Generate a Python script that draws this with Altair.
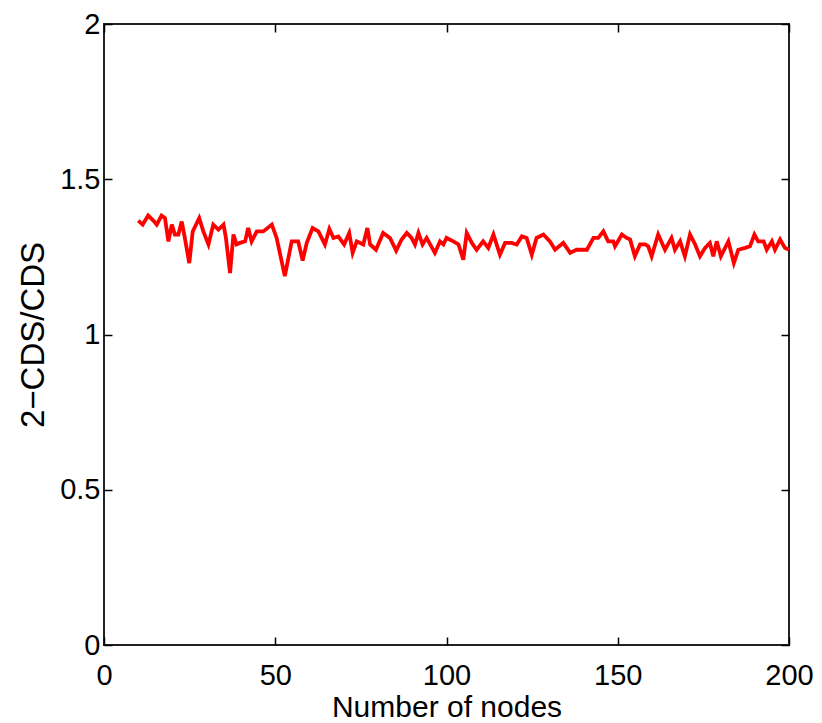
import altair as alt
import pandas as pd

nodes = [10, 11.3, 12.9, 14.4, 15.4, 16.8, 17.8, 18.8, 19.8, 20.7,
         21.7, 22.7, 23.6, 24.9, 25.9, 27.8, 29.0, 30.5, 31.9, 33.4,
         34.9, 35.6, 36.8, 37.8, 38.7, 39.7, 41.2, 42.1, 43.1, 44.6,
         46.5, 49.0,
         50.4, 52.8, 54.8, 56.7, 58.0, 59.2, 60.9, 62.6, 64.5, 65.8,
         67.0, 68.4, 70.1, 71.6, 72.6, 73.8, 75.7, 76.9, 77.7, 79.4,
         81.5, 83.5, 85.3, 86.9, 88.4, 89.8, 90.8, 91.8, 93.0, 94.2,
         96.6, 98.1, 99.1,
         100.0, 102.0, 103.5, 104.9, 105.9, 107.4, 108.8, 110.7, 112.2, 113.7,
         115.6, 117.1, 119.0, 120.5, 122.0, 123.4, 124.9, 126.3, 128.3, 130.2,
         131.7, 134.1, 136.1, 138.0, 141.0, 142.9, 144.3, 145.8, 147.2, 148.7,
         149.2, 151.2, 152.6, 153.6, 155.0, 156.5, 158.0, 158.9, 159.9, 161.8,
         163.8, 165.7, 166.7, 168.2, 169.6, 171.1, 172.6, 174.0, 175.5, 176.9,
         177.9, 178.9, 180.1, 182.3, 183.9, 185.2, 187.2, 188.6, 189.9, 191.0,
         192.6, 193.5, 195.0, 195.9, 197.4, 198.8, 200.0]

ratio = [1.367, 1.354, 1.383, 1.367, 1.354, 1.383, 1.375, 1.300, 1.354, 1.322,
         1.322, 1.364, 1.311, 1.230, 1.332, 1.375, 1.332, 1.290, 1.354, 1.338,
         1.354, 1.311, 1.198, 1.322, 1.290, 1.295, 1.300, 1.343, 1.300, 1.332,
         1.332, 1.354,
         1.311, 1.188, 1.300, 1.300, 1.238, 1.295, 1.343, 1.332, 1.290, 1.340,
         1.311, 1.316, 1.290, 1.327, 1.263, 1.300, 1.290, 1.343, 1.290, 1.273,
         1.327, 1.311, 1.270, 1.306, 1.327, 1.311, 1.290, 1.327, 1.290, 1.311,
         1.263, 1.300, 1.290,
         1.311, 1.300, 1.290, 1.241, 1.327, 1.295, 1.273, 1.300, 1.279, 1.322,
         1.257, 1.295, 1.295, 1.290, 1.316, 1.311, 1.257, 1.311, 1.322, 1.300,
         1.273, 1.295, 1.263, 1.273, 1.273, 1.311, 1.311, 1.332, 1.300, 1.300,
         1.284, 1.322, 1.311, 1.306, 1.252, 1.290, 1.290, 1.284, 1.252, 1.322,
         1.273, 1.311, 1.273, 1.300, 1.252, 1.322, 1.290, 1.252, 1.279, 1.295,
         1.252, 1.300, 1.252, 1.300, 1.230, 1.273, 1.279, 1.284, 1.322, 1.300,
         1.300, 1.273, 1.300, 1.273, 1.306, 1.279, 1.273]

x_ticks = [0, 50, 100, 150, 200]
y_ticks = [0, 0.5, 1, 1.5, 2]

df = pd.DataFrame({"n": nodes, "r": ratio})

W, H = 685, 621
FONT = "Liberation Sans"

xscale = alt.Scale(domain=[0, 200], nice=False, zero=False)
yscale = alt.Scale(domain=[0, 2], nice=False, zero=False)

main_x = alt.Axis(orient="bottom", values=x_ticks, ticks=False, domain=False, grid=False,
                  labelExpr="datum.value + ''",
                  labelFont=FONT, labelFontSize=29, labelColor="#000", labelFlush=False,
                  labelBaseline="alphabetic", labelPadding=39, labelOverlap=False,
                  title="Number of nodes", titleFont=FONT, titleFontSize=30,
                  titleFontWeight="normal", titleColor="#000",
                  titleBaseline="alphabetic", titleY=71, titleX=W / 2)
main_y = alt.Axis(orient="left", values=y_ticks, ticks=False, domain=False, grid=False,
                  labelExpr="datum.value + ''",
                  labelFont=FONT, labelFontSize=29, labelColor="#000", labelFlush=False,
                  labelPadding=4, labelOverlap=False, labelBaseline="middle",
                  title="2\u2212CDS/CDS", titleFont=FONT, titleFontSize=33,
                  titleFontWeight="normal", titleColor="#000",
                  titleBaseline="alphabetic", titleX=-61, titleY=H / 2, titleAngle=270)

def tick_axis(orient, vals, off):
    return alt.Axis(orient=orient, values=vals, offset=off, domain=False, grid=False,
                    labels=False, title=None, ticks=True, tickSize=8,
                    tickColor="#000", tickWidth=1.5)

line = alt.Chart(df).mark_line(color="#ff0000", strokeWidth=3.8).encode(
    x=alt.X("n:Q", scale=xscale, axis=main_x),
    y=alt.Y("r:Q", scale=yscale, axis=main_y),
)

ticks_a = alt.Chart(df).mark_line(opacity=0).encode(
    x=alt.X("n:Q", scale=xscale, axis=tick_axis("top", x_ticks, -H)),
    y=alt.Y("r:Q", scale=yscale, axis=tick_axis("right", y_ticks, -W)),
)

ticks_b = alt.Chart(df).mark_line(opacity=0).encode(
    x=alt.X("n:Q", scale=xscale, axis=tick_axis("bottom", x_ticks, -H)),
    y=alt.Y("r:Q", scale=yscale, axis=tick_axis("left", y_ticks, -W)),
)

chart = alt.layer(line, ticks_a, ticks_b).resolve_axis(
    x="independent", y="independent"
).properties(
    width=W, height=H,
    autosize=alt.AutoSizeParams(type="none"),
    padding={"left": 96, "top": 16, "right": 25, "bottom": 80},
    background="white",
).configure_view(stroke="#222", strokeWidth=2)

chart.save("out.html", embed_options={"renderer": "svg", "actions": False})
